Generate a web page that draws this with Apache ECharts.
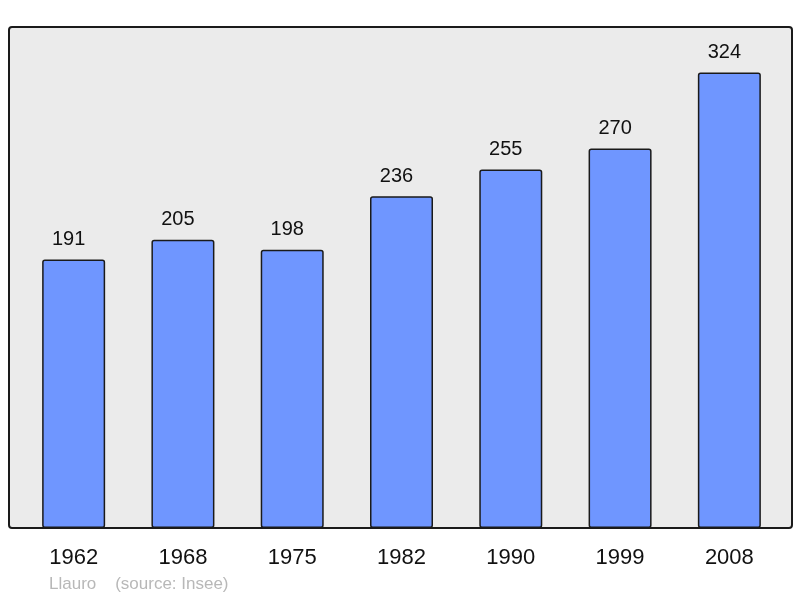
<!DOCTYPE html>
<html><head><meta charset="utf-8">
<script src="https://cdn.jsdelivr.net/npm/echarts@6/dist/echarts.min.js"></script>
<style>html,body{margin:0;padding:0;background:#fff}#c{width:800px;height:598px}</style>
</head><body><div id="c"></div>
<script>
var years = ['1962','1968','1975','1982','1990','1999','2008'];
var population = [191,205,198,236,255,270,324];
var sourceText = 'Llauro    (source: Insee)';

var chart = echarts.init(document.getElementById('c'), null, {renderer:'canvas'});
chart.setOption({
  animation:false,
  backgroundColor:'#ffffff',
  graphic:[
    {type:'rect', z:-10, shape:{x:9,y:27,width:783,height:501,r:3},
     style:{fill:'#ebebeb', stroke:'#1a1a1a', lineWidth:2}},
    {type:'text', left:49, top:576, style:{text:sourceText, fill:'#b8b8b8', font:'17px "Liberation Sans", Arial, sans-serif'}}
  ],
  grid:{left:19, right:16, top:27, bottom:70},
  xAxis:{type:'category', data:years,
    axisLine:{show:false}, axisTick:{show:false},
    axisLabel:{color:'#111', fontSize:22, fontFamily:'Liberation Sans', margin:19}},
  yAxis:{type:'value', min:0, max:356.4, show:false, splitLine:{show:false}},
  series:[{type:'bar', data:population, barWidth:63,
    itemStyle:{color:'#6f96ff', borderColor:'#1a1a1a', borderWidth:1.5, borderRadius:2},
    label:{show:true, position:'top', distance:10, offset:[-5,0], color:'#111', fontSize:20, fontFamily:'Liberation Sans'}}]
});
</script></body></html>
